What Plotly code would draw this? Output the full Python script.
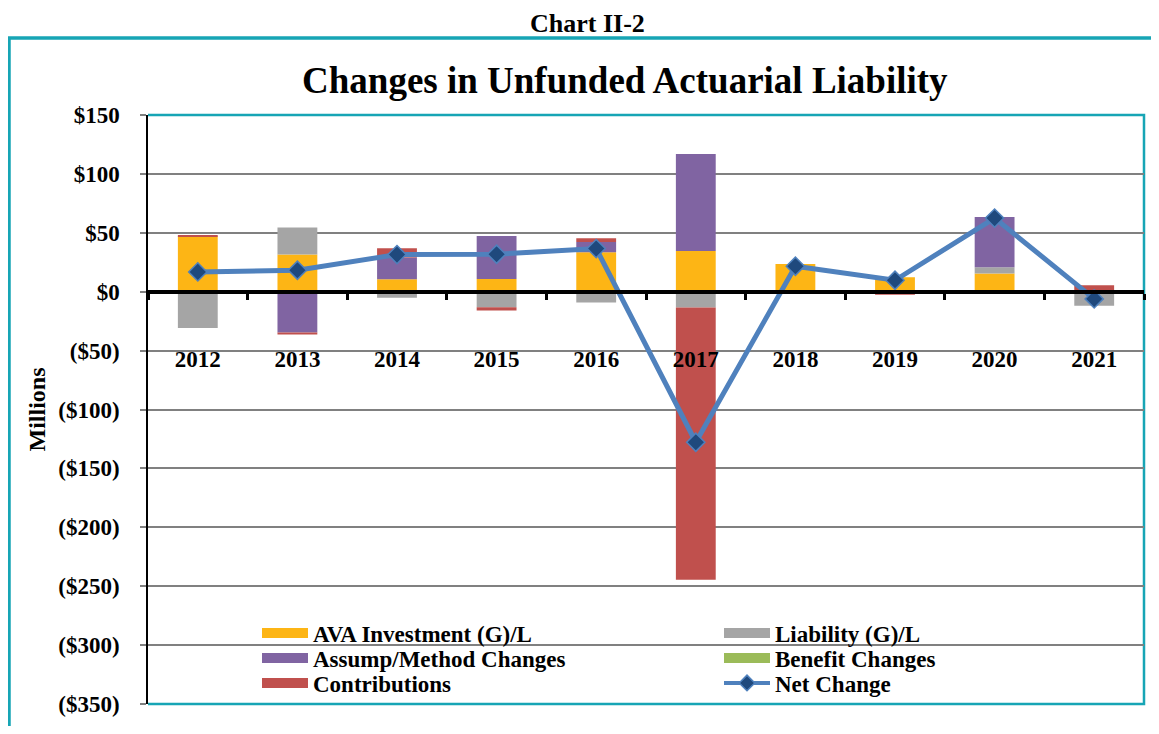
import plotly.graph_objects as go

# ---- data (millions) ----
years = ["2012", "2013", "2014", "2015", "2016", "2017", "2018", "2019", "2020", "2021"]
ava_investment = [47.0, 31.5, 10.6, 10.8, 33.5, 34.6, 23.6, 12.3, 15.4, -0.6]
liability_gl = [-30.8, 22.9, -5.2, -13.1, -9.2, -13.4, 0.0, 0.0, 5.4, -11.4]
assump_method = [0.0, -34.6, 18.4, 36.5, 8.7, 82.2, 0.0, 0.0, 42.6, 0.0]
benefit_changes = [0.0, 0.0, 0.0, 0.0, 0.0, 0.0, 0.0, 0.0, 0.0, 0.0]
contributions = [0.8, -1.7, 7.9, -2.8, 3.1, -231.1, -2.0, -2.5, 0.0, 5.5]
net_change = [16.8, 18.2, 31.5, 31.8, 36.6, -127.8, 21.6, 9.7, 62.5, -6.1]

y_tickvals = [150, 100, 50, 0, -50, -100, -150, -200, -250, -300, -350]
y_ticktext = ["$150", "$100", "$50", "$0", "($50)", "($100)", "($150)",
              "($200)", "($250)", "($300)", "($350)"]

# ---- styles ----
FONT = "Liberation Serif"
TEAL = "#17A5B5"
bar_series = [
    ("AVA Investment (G)/L", ava_investment, "#FDB515"),
    ("Liability (G)/L", liability_gl, "#A5A5A5"),
    ("Assump/Method Changes", assump_method, "#8064A2"),
    ("Benefit Changes", benefit_changes, "#9BBB59"),
    ("Contributions", contributions, "#C0504D"),
]

# page body has an 8px margin; size the figure so it fits the 1159x734 window
OFF = 8
W, H = 1159 - 2 * OFF, 734 - 2 * OFF
PL, PR, PT, PB = 148, 1144, 115, 704          # plot area in page pixels
L, R, T, B = PL - OFF, W - (PR - OFF), PT - OFF, H - (PB - OFF)
pw, ph = W - L - R, H - T - B


def px_x(p):
    """page x pixel -> paper fraction"""
    return (p - OFF - L) / pw


def px_y(p):
    """page y pixel -> paper fraction"""
    return (H - B - (p - OFF)) / ph


# legend slot for each entry: (legend id, swatch-left px, row-centre px)
legend_slots = [
    ("legend", 262, 633),
    ("legend2", 724, 633),
    ("legend3", 262, 658),
    ("legend4", 724, 658),
    ("legend5", 262, 683),
    ("legend6", 724, 683),
]

fig = go.Figure()
for name, vals, col in bar_series:
    fig.add_trace(go.Bar(x=years, y=vals, name=name, marker=dict(color=col, line=dict(width=0)),
                         width=0.4, showlegend=False))

fig.add_trace(go.Scatter(
    x=years, y=net_change, name="Net Change", mode="lines+markers",
    line=dict(color="#4F81BD", width=5),
    marker=dict(symbol="diamond", size=14, color="#1F497D", line=dict(color="#4F81BD", width=1.5)),
    showlegend=False))

# legend entries (wide swatches like the original)
for (name, vals, col), (lg, _, _) in zip(bar_series, legend_slots):
    fig.add_trace(go.Scatter(x=[None], y=[None], mode="lines", name=name, legend=lg,
                             line=dict(color=col, width=12), showlegend=True))
fig.add_trace(go.Scatter(x=[None], y=[None], mode="lines+markers", name="Net Change",
                         legend=legend_slots[5][0],
                         line=dict(color="#4F81BD", width=4),
                         marker=dict(symbol="diamond", size=12, color="#1F497D",
                                     line=dict(color="#4F81BD", width=1.5)),
                         showlegend=True))

legend_font = dict(family=FONT, size=23, color="black", weight="bold")
legends = {}
for lg, sx, sy in legend_slots:
    legends[lg] = dict(x=px_x(sx - 5), y=px_y(sy), xanchor="left", yanchor="middle",
                       bgcolor="rgba(0,0,0,0)", borderwidth=0, itemwidth=46,
                       font=legend_font)

fig.update_layout(
    width=W, height=H,
    margin=dict(l=L, r=R, t=T, b=B, pad=0, autoexpand=False),
    paper_bgcolor="white", plot_bgcolor="white",
    barmode="relative",
    font=dict(family=FONT, size=18, color="black", weight="bold"),
    xaxis=dict(type="category", anchor="free", position=0.7, showline=True, linecolor="black",
               linewidth=4, ticks="outside", tickson="boundaries", ticklen=6, tickwidth=3,
               tickcolor="black", showgrid=False, ticklabelstandoff=46, automargin=False,
               tickfont=dict(family=FONT, size=23, color="black", weight="bold"),
               range=[-0.5, 9.5]),
    yaxis=dict(range=[-350, 150], tickvals=y_tickvals, ticktext=y_ticktext,
               showgrid=True, gridcolor="#808080", gridwidth=1.5, zeroline=False,
               showline=True, linecolor="black", linewidth=1.5, ticks="outside",
               ticklen=6, tickcolor="#808080", tickwidth=1.5, ticklabelstandoff=16,
               automargin=False,
               tickfont=dict(family=FONT, size=23, color="black", weight="bold"),
               title=dict(text="Millions", standoff=6,
                          font=dict(family=FONT, size=24, color="black", weight="bold"))),
    shapes=[
        dict(type="path", xref="paper", yref="paper", layer="below",
             path="M 0 1 L 1 1 L 1 0 L 0 0", line=dict(color=TEAL, width=2.5)),
        dict(type="path", xref="paper", yref="paper", layer="above",
             path=f"M {px_x(9)} {px_y(745)} L {px_x(9)} {px_y(38)} L {px_x(1170)} {px_y(38)}",
             line=dict(color=TEAL, width=3.5)),
    ],
    annotations=[
        dict(text="Chart II-2", xref="paper", yref="paper", x=px_x(587), y=px_y(8),
             xanchor="center", yanchor="top", showarrow=False, borderpad=0,
             font=dict(family=FONT, size=26, color="black", weight="bold")),
        dict(text="Changes in Unfunded Actuarial Liability", xref="paper", yref="paper",
             x=px_x(625), y=px_y(80), xanchor="center", yanchor="middle", showarrow=False,
             font=dict(family=FONT, size=37, color="black", weight="bold")),
    ],
    **legends,
)

fig.write_html("out.html")
